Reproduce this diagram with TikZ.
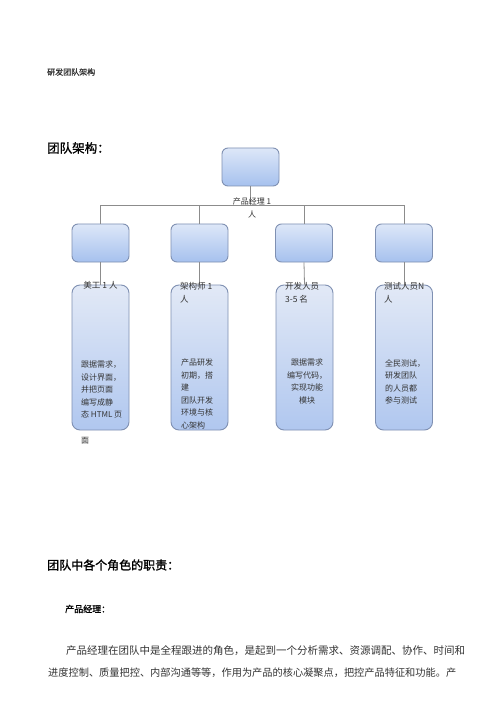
\documentclass[tikz,border=0pt]{standalone}
\usepackage{fontspec}
\setmainfont{Noto Sans CJK SC}
\newfontfamily\cjkb[FakeBold=1.2]{Noto Sans CJK SC}
\definecolor{txt}{HTML}{333333}
\definecolor{boxtop}{HTML}{DDE7F8}
\definecolor{boxbot}{HTML}{A6C1EE}
\definecolor{talltop}{HTML}{E2E9F6}
\definecolor{tallbot}{HTML}{B0C7EF}
\definecolor{boxline}{HTML}{7F90B2}
\definecolor{conn}{HTML}{8C8C8C}
\begin{document}
\begin{tikzpicture}[x=1pt,y=1pt,
  smallbox/.style={draw=boxline, line width=0.9pt, rounded corners=6pt, minimum width=57pt, minimum height=38pt, top color=boxtop, bottom color=boxbot, inner sep=0pt},
  tallbox/.style={draw=boxline, line width=0.9pt, rounded corners=8pt, minimum width=57pt, minimum height=145pt, top color=talltop, bottom color=tallbot, inner sep=0pt},
  conline/.style={draw=conn, line width=0.8pt},
  lbl/.style={text=txt, inner sep=0pt, font=\fontsize{8.5}{13.5}\selectfont, align=left, anchor=north west},
  body/.style={text=txt, inner sep=0pt, font=\fontsize{8}{12.5}\selectfont, align=left, anchor=north west}
]
\useasboundingbox[fill=white] (0,0) rectangle (500,-708);

% headings
\node[text=txt, inner sep=0pt, anchor=west, font=\fontsize{8}{10}\cjkb] (t1) at (47,-72) {研发团队架构};
\node[text=black, inner sep=0pt, anchor=west, font=\fontsize{12.5}{14}\cjkb] (t2) at (47,-148) {团队架构：};

% boxes
\node[smallbox] (pm) at (250.5,-167) {};
\node[smallbox] (b1) at (100.5,-243) {};
\node[smallbox] (b2) at (199.5,-243) {};
\node[smallbox] (b3) at (304,-243) {};
\node[smallbox] (b4) at (404,-243) {};
\node[tallbox] (c1) at (100.5,-357.5) {};
\node[tallbox] (c2) at (199.5,-357.5) {};
\node[tallbox] (c3) at (304.5,-357.5) {};
\node[tallbox] (c4) at (404,-357.5) {};

% connectors
\coordinate (bar) at (250.5,-205);
\draw[conline] (pm.south) -- (bar);
\foreach \b in {b1,b2,b3,b4} \draw[conline] (bar) -| (\b.north);
\draw[conline] (b1.south) -- (c1.north);
\draw[conline] (b2.south) -- (c2.north);
\draw[conline] (b3.south) -- (c3.north);
\draw[conline] (b4.south) -- (c4.north);

% labels
\node[text=txt, inner sep=0pt, align=center, font=\fontsize{8}{13}\selectfont] (lpm) at (252,-208) {产品经理 1\\人};
\node[lbl, anchor=north] (l1) at (100.5,-281) {美工 1 人};
\node[lbl] (l2) at (180,-282) {架构师 1\\人};
\node[lbl] (l3) at (285,-282) {开发人员\\3-5 名};
\node[lbl] (l4) at (384,-282) {测试人员N\\人};

% body texts
\node[body] (x1) at (81,-361) {跟据需求，\\设计界面，\\并把页面\\编写成静\\态 HTML 页};
\node[body] (x1b) at (81,-437) {面};
\node[body] (x2) at (181,-359) {产品研发\\初期，搭\\建\\团队开发\\环境与核\\心架构};
\node[body, align=center, anchor=north] (x3) at (307,-359) {跟据需求\\编写代码，\\实现功能\\模块};
\node[body] (x4) at (385,-359) {全民测试，\\研发团队\\的人员都\\参与测试};

% lower text
\node[text=black, inner sep=0pt, anchor=west, font=\fontsize{12}{14}\cjkb] (t3) at (47,-565) {团队中各个角色的职责：};
\node[text=black, inner sep=0pt, anchor=west, font=\fontsize{9}{11}\cjkb] (t4) at (65,-609) {产品经理：};
\node[text=txt, inner sep=0pt, anchor=west, font=\fontsize{10.5}{12}\selectfont] (p1) at (66,-651) {产品经理在团队中是全程跟进的角色，是起到一个分析需求、资源调配、协作、时间和};
\node[text=txt, inner sep=0pt, anchor=west, font=\fontsize{10.2}{12}\selectfont] (p2) at (48,-673) {进度控制、质量把控、内部沟通等等，作用为产品的核心凝聚点，把控产品特征和功能。产};
\end{tikzpicture}
\end{document}
